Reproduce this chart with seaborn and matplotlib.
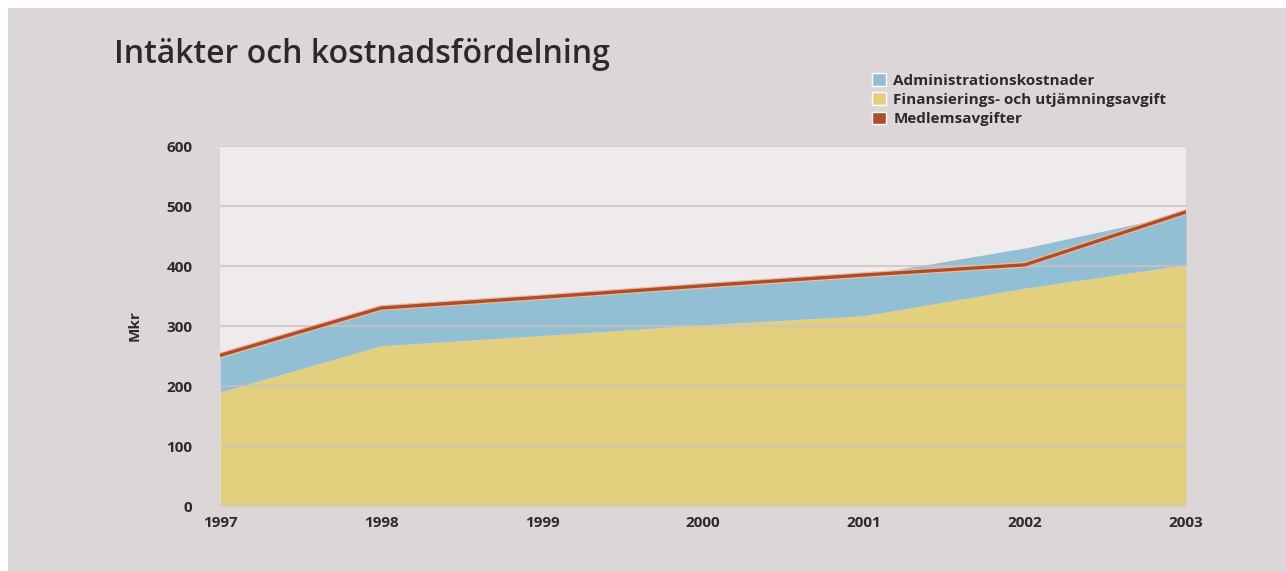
import numpy as np
import pandas as pd
import matplotlib
matplotlib.use("Agg")
import matplotlib.pyplot as plt
import seaborn as sns
from matplotlib.patches import Patch, Rectangle

years = [1997, 1998, 1999, 2000, 2001, 2002, 2003]
finansiering = [190, 267, 284, 302, 317, 363, 402]
administration = [57, 62, 62, 63, 68, 67, 86]
medlemsavgifter = [251, 330, 348, 367, 385, 402, 490]

labels = ["Administrationskostnader", "Finansierings- och utjämningsavgift", "Medlemsavgifter"]
yellow = "#e2d07f"
blue = "#93bfd4"
red = "#ad4d2b"

df = pd.DataFrame({"year": years, "fin": finansiering, "adm": administration, "med": medlemsavgifter})

sns.set_style("white")
plt.rcParams["font.family"] = ["Open Sans", "DejaVu Sans"]

fig = plt.figure(figsize=(12.86, 5.71), dpi=100)
fig.patch.set_facecolor("white")
# grey card behind everything, with a thin white margin top/left like the scan
fig.patches.append(Rectangle((8 / 1286, 0), 1, 1 - 8 / 571, transform=fig.transFigure,
                             facecolor="#dcd6d8", edgecolor="none", zorder=-10))

ax = fig.add_axes([0.1711, 0.1138, 0.7511, 0.6305])
ax.set_facecolor("#efebed")

ax.stackplot(df["year"], df["fin"], df["adm"], colors=[yellow, blue], linewidth=0, zorder=2)
sns.lineplot(data=df, x="year", y="med", color="#e9bca0", linewidth=4.2, ax=ax, zorder=3)
sns.lineplot(data=df, x="year", y="med", color=red, linewidth=2.4, ax=ax, zorder=4)

ax.set_xlim(1997, 2003)
ax.set_ylim(0, 600)
ax.set_yticks(range(0, 700, 100))
ax.set_xticks(years)
ax.grid(axis="y", color="#cbc4c2", linewidth=1.5, alpha=0.8, zorder=2.5)
ax.set_axisbelow(False)
for s in ax.spines.values():
    s.set_visible(False)
ax.tick_params(axis="both", length=0, labelsize=11, labelcolor="#2b2b2b")
ax.tick_params(axis="y", pad=20)
ax.tick_params(axis="x", pad=7)
for t in ax.get_xticklabels() + ax.get_yticklabels():
    t.set_fontweight("bold")
ax.set_xlabel("")
ax.set_ylabel("Mkr", fontsize=11, fontweight="bold", color="#2b2b2b", labelpad=18)

fig.text(0.089, 0.905, "Intäkter och kostnadsfördelning", fontsize=23, fontweight="semibold",
         color="#2a2a2a", va="center", ha="left")

handles = [Patch(facecolor=blue), Patch(facecolor=yellow), Patch(facecolor=red)]
leg = fig.legend(handles, labels, loc="upper left", bbox_to_anchor=(0.672, 0.885), frameon=False,
                 fontsize=11, handlelength=0.9, handleheight=0.9, handletextpad=0.5, labelspacing=0.3,
                 borderpad=0)
for t in leg.get_texts():
    t.set_fontweight("bold")
    t.set_color("#2b2b2b")

fig.savefig("out.png", dpi=100, facecolor=fig.get_facecolor())
